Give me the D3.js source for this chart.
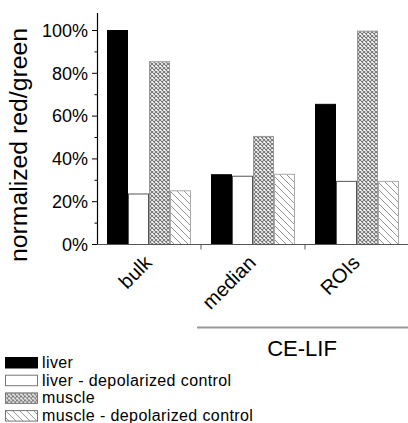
<!DOCTYPE html>
<html>
<head>
<meta charset="utf-8">
<script src="https://cdn.jsdelivr.net/npm/d3@7"></script>
<style>
    body { margin: 0; background: #fff; }
    svg { display: block; font-family: 'Liberation Sans', Arial, sans-serif; }
</style>
</head>
<body>
<div id="chart"></div>
<script>
// data
const categories = ['bulk', 'median', 'ROIs'];
const seriesNames = ['liver', 'liver - depolarized control', 'muscle', 'muscle - depolarized control'];
const liver = [100, 32.6, 65.5];
const liverControl = [23.6, 31.9, 29.5];
const muscle = [85.4, 50.5, 99.7];
const muscleControl = [25.1, 32.8, 29.5];
const yTicks = [0, 20, 40, 60, 80, 100];
const yMinorTicks = [10, 30, 50, 70, 90];
const groupLabel = 'CE-LIF';
const groupMembers = ['median', 'ROIs'];

const seriesValues = [liver, liverControl, muscle, muscleControl];

function drawChart() {
    let width = 408,
        height = 423,
        svg = d3.select('#chart').append('svg')
                .attr('width', width)
                .attr('height', height);

    setUpDefs(svg);

    // scales
    let xScale = d3.scaleBand().domain(categories).range([97, 409]).padding(0),
        inner = d3.scaleBand().domain(seriesNames).range([10, 94]).padding(0),
        yScale = d3.scaleLinear().domain([0, 100]).range([244.5, 30.5]);

    let fills = ['#000', '#fff', 'url(#cross-hatch)', 'url(#diag-hatch)'],
        strokes = ['#000', '#555', '#999', '#aaa'];

    // bars
    let rows = [];
    categories.forEach((c, i) => {
        seriesNames.forEach((s, j) => rows.push({cat: c, series: s, j: j, value: seriesValues[j][i]}));
    });
    // draw white bars first so neighbours cover their sides
    let order = [1, 0, 2, 3];
    rows.sort((a, b) => order.indexOf(a.j) - order.indexOf(b.j));
    svg.append('g').selectAll('rect')
       .data(rows).enter().append('rect')
       .attr('x', d => xScale(d.cat) + inner(d.series) + 0.5)
       .attr('y', d => yScale(d.value))
       .attr('width', inner.bandwidth() - 1)
       .attr('height', d => yScale(0) - yScale(d.value))
       .attr('fill', d => fills[d.j])
       .attr('stroke', d => strokes[d.j])
       .attr('stroke-width', 1);

    // y axis
    let yAxis = svg.append('g');
    yAxis.append('line')
         .attr('x1', 97.5).attr('x2', 97.5)
         .attr('y1', 13).attr('y2', yScale(0))
         .attr('stroke', '#000').attr('stroke-width', 1.2);
    yAxis.selectAll('line.major').data(yTicks).enter().append('line')
         .attr('class', 'major')
         .attr('x1', 92).attr('x2', 97.5)
         .attr('y1', d => yScale(d)).attr('y2', d => yScale(d))
         .attr('stroke', '#000');
    yAxis.selectAll('line.minor').data(yMinorTicks).enter().append('line')
         .attr('class', 'minor')
         .attr('x1', 94.5).attr('x2', 97.5)
         .attr('y1', d => yScale(d)).attr('y2', d => yScale(d))
         .attr('stroke', '#000');
    yAxis.selectAll('text').data(yTicks).enter().append('text')
         .attr('x', 88).attr('y', d => yScale(d))
         .attr('dy', '0.35em')
         .attr('text-anchor', 'end')
         .attr('font-size', 18)
         .text(d => d + '%');

    svg.append('text')
       .attr('transform', `translate(27, ${(28 + 262) / 2}) rotate(-90)`)
       .attr('text-anchor', 'middle')
       .attr('font-size', 23)
       .attr('textLength', 234)
       .attr('lengthAdjust', 'spacingAndGlyphs')
       .text('normalized red/green');

    // x axis
    let xAxis = svg.append('g');
    xAxis.append('line')
         .attr('x1', 97).attr('x2', 408)
         .attr('y1', yScale(0)).attr('y2', yScale(0))
         .attr('stroke', '#555').attr('stroke-width', 1.2);
    xAxis.selectAll('line.tick').data(categories.slice(1)).enter().append('line')
         .attr('class', 'tick')
         .attr('x1', d => xScale(d)).attr('x2', d => xScale(d))
         .attr('y1', yScale(0)).attr('y2', yScale(0) + 5)
         .attr('stroke', '#555');
    xAxis.selectAll('text').data(categories).enter().append('text')
         .attr('transform', d => `translate(${xScale(d) + xScale.bandwidth() / 2 + 4}, 264) rotate(-45)`)
         .attr('text-anchor', 'end')
         .attr('font-size', 20)
         .text(d => d);

    // group bracket
    let gx1 = xScale(groupMembers[0]) - 4,
        gx2 = xScale(groupMembers[groupMembers.length - 1]) + xScale.bandwidth();
    svg.append('line')
       .attr('x1', gx1).attr('x2', gx2)
       .attr('y1', 327.5).attr('y2', 327.5)
       .attr('stroke', '#999').attr('stroke-width', 2);
    svg.append('text')
       .attr('x', (gx1 + gx2) / 2 - 1).attr('y', 356)
       .attr('text-anchor', 'middle')
       .attr('font-size', 22)
       .text(groupLabel);

    // legend
    let legend = svg.append('g').attr('transform', 'translate(5, 357)'),
        items = legend.selectAll('g').data(seriesNames).enter().append('g')
                      .attr('transform', (d, i) => `translate(0, ${i * 17.7})`);
    items.append('rect')
         .attr('x', 0.5).attr('y', 0.5)
         .attr('width', 32).attr('height', 10.5)
         .attr('fill', (d, i) => fills[i])
         .attr('stroke', (d, i) => i === 0 ? '#000' : '#777');
    items.append('text')
         .attr('x', 37).attr('y', 11)
         .attr('font-size', 16)
         .attr('letter-spacing', 0.4)
         .text(d => d);
}

function setUpDefs(svg) {
    let defs = svg.append('defs');
    let cross = defs.append('pattern')
                    .attr('id', 'cross-hatch')
                    .attr('patternUnits', 'userSpaceOnUse')
                    .attr('width', 4).attr('height', 4);
    cross.append('rect').attr('width', 4).attr('height', 4).attr('fill', '#fff');
    cross.append('path')
         .attr('d', 'M0,0L4,4M4,0L0,4')
         .attr('stroke', '#777').attr('stroke-width', 1.1);

    let diag = defs.append('pattern')
                   .attr('id', 'diag-hatch')
                   .attr('patternUnits', 'userSpaceOnUse')
                   .attr('width', 7).attr('height', 7);
    diag.append('rect').attr('width', 7).attr('height', 7).attr('fill', '#fff');
    diag.append('path')
        .attr('d', 'M0,0L7,7M-1,6L1,8M6,-1L8,1')
        .attr('stroke', '#888').attr('stroke-width', 0.9);
}

drawChart();
</script>
</body>
</html>
